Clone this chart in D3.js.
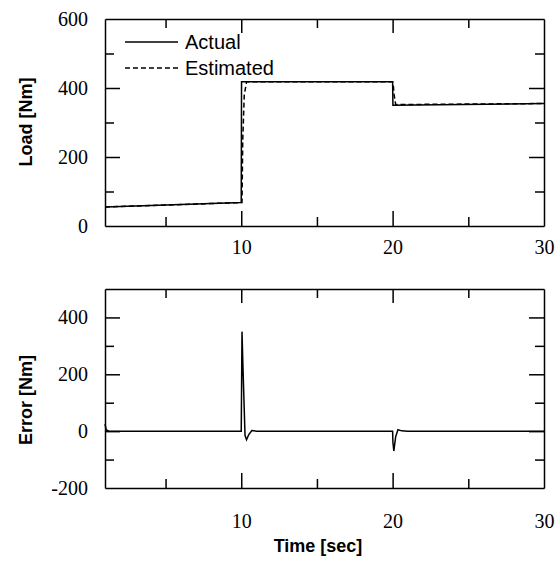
<!DOCTYPE html>
<html>
<head>
<meta charset="utf-8">
<script src="https://cdn.jsdelivr.net/npm/d3@7"></script>
<style>
  body { margin: 0; background: #fff; }
  svg { display: block; }
  .domain { stroke: #000; stroke-width: 1.5; }
  .tick line { stroke: #000; stroke-width: 1.5; }
  .label { font-family: "Liberation Sans", Arial, sans-serif; font-size: 18px; font-weight: bold; fill: #000; }
  .legend { font-family: "Liberation Sans", Arial, sans-serif; font-size: 20px; fill: #000; }
</style>
</head>
<body>
<svg width="560" height="572"></svg>
<script>
// time [sec] and load [Nm]
var actualTime  = [1, 10, 10.02, 20, 20.02, 30];
var actualLoad  = [55, 68, 418, 418, 350, 355];
var estTime     = [1, 10.05, 10.1, 10.2, 10.35, 20, 20.05, 20.1, 20.2, 30];
var estLoad     = [55, 68, 250, 380, 418, 418, 405, 380, 352, 355];
var errTime     = [1, 1.08, 1.25, 10, 10.05, 10.1, 10.25, 10.35, 10.5, 10.7, 11, 20, 20.02, 20.08, 20.2, 20.35, 20.6, 21, 30];
var errValue    = [25, 5, 0, 0, 350, 250, -15, -30, -12, 2, 0, 0, -40, -70, -20, 5, 1, 0, 0];

var xTicks = [10, 20, 30];
var xMinor = [5, 15, 25];
var loadTicks = [0, 200, 400, 600];
var loadMinor = [100, 300, 500];
var errTicks = [-200, 0, 200, 400];
var errMinor = [-100, 100, 300];

var svg = d3.select("svg");

var x = d3.scaleLinear().domain([1, 30]).range([105, 544]);
var yLoad = d3.scaleLinear().domain([0, 600]).range([226, 19]);
var yErr = d3.scaleLinear().domain([-200, 500]).range([488, 289]);

function zip(a, b) { return a.map(function(t, i) { return [t, b[i]]; }); }
function fmt(d) { return String(d); }

function styleText(g) {
    g.selectAll("text")
        .attr("font-family", "'Liberation Serif', 'Times New Roman', 'DejaVu Serif', serif")
        .attr("font-size", 20).attr("fill", "#000");
}

function drawPanel(y, major, minor, labelDy) {
    var top = y.range()[1], bottom = y.range()[0];
    // bottom axis with labels
    var gb = svg.append("g").attr("transform", "translate(0," + bottom + ")")
        .call(d3.axisBottom(x).tickValues(xTicks).tickFormat(fmt).tickSizeInner(-15).tickSizeOuter(0).tickPadding(labelDy));
    gb.selectAll(".tick").filter(function(d) { return d == 30; }).select("line").remove();
    styleText(gb);
    svg.append("g").attr("transform", "translate(0," + bottom + ")")
        .call(d3.axisBottom(x).tickValues(xMinor).tickSizeInner(-9).tickSizeOuter(0).tickFormat(""))
        .select(".domain").remove();
    // top
    svg.append("g").attr("transform", "translate(0," + top + ")")
        .call(d3.axisTop(x).tickValues([10, 20]).tickSizeInner(-14).tickSizeOuter(0).tickFormat(""));
    svg.append("g").attr("transform", "translate(0," + top + ")")
        .call(d3.axisTop(x).tickValues(xMinor).tickSizeInner(-9).tickSizeOuter(0).tickFormat(""))
        .select(".domain").remove();
    // left
    var gl = svg.append("g").attr("transform", "translate(" + x.range()[0] + ",0)")
        .call(d3.axisLeft(y).tickValues(major).tickFormat(fmt).tickSizeInner(-15).tickSizeOuter(0).tickPadding(17));
    gl.selectAll(".tick").filter(function(d) { return d == y.domain()[0] || d == y.domain()[1]; }).select("line").remove();
    styleText(gl);
    svg.append("g").attr("transform", "translate(" + x.range()[0] + ",0)")
        .call(d3.axisLeft(y).tickValues(minor).tickSizeInner(-9).tickSizeOuter(0).tickFormat(""))
        .select(".domain").remove();
    // right
    var gr = svg.append("g").attr("transform", "translate(" + x.range()[1] + ",0)")
        .call(d3.axisRight(y).tickValues(major).tickSizeInner(-15).tickSizeOuter(0).tickFormat(""));
    gr.selectAll(".tick").filter(function(d) { return d == y.domain()[0] || d == y.domain()[1]; }).select("line").remove();
    svg.append("g").attr("transform", "translate(" + x.range()[1] + ",0)")
        .call(d3.axisRight(y).tickValues(minor).tickSizeInner(-9).tickSizeOuter(0).tickFormat(""))
        .select(".domain").remove();
}

drawPanel(yLoad, loadTicks, loadMinor, 14);
drawPanel(yErr, errTicks, errMinor, 26);

var lineLoad = d3.line().x(function(d) { return x(d[0]); }).y(function(d) { return yLoad(d[1]); });
var lineErr = d3.line().x(function(d) { return x(d[0]); }).y(function(d) { return yErr(d[1]); });

svg.append("path").datum(zip(estTime, estLoad))
    .attr("d", lineLoad).attr("fill", "none").attr("stroke", "#000")
    .attr("stroke-width", 1.5).attr("stroke-dasharray", "5,3");
svg.append("path").datum(zip(actualTime, actualLoad))
    .attr("d", lineLoad).attr("fill", "none").attr("stroke", "#000").attr("stroke-width", 1.5);
svg.append("path").datum(zip(errTime, errValue))
    .attr("d", lineErr).attr("fill", "none").attr("stroke", "#000").attr("stroke-width", 1.5);

// legend
svg.append("line").attr("x1", 125).attr("x2", 178).attr("y1", 42).attr("y2", 42)
    .attr("stroke", "#000").attr("stroke-width", 1.5);
svg.append("line").attr("x1", 125).attr("x2", 178).attr("y1", 68).attr("y2", 68)
    .attr("stroke", "#000").attr("stroke-width", 1.5).attr("stroke-dasharray", "5,3");
svg.append("text").attr("class", "legend").attr("x", 185).attr("y", 49).text("Actual");
svg.append("text").attr("class", "legend").attr("x", 185).attr("y", 75).text("Estimated");

// axis titles
svg.append("text").attr("class", "label")
    .attr("transform", "translate(32,122) rotate(-90)").attr("text-anchor", "middle").text("Load [Nm]");
svg.append("text").attr("class", "label")
    .attr("transform", "translate(32,400) rotate(-90)").attr("text-anchor", "middle").text("Error [Nm]");
svg.append("text").attr("class", "label")
    .attr("x", 318).attr("y", 552).attr("text-anchor", "middle").text("Time [sec]");
</script>
</body>
</html>
